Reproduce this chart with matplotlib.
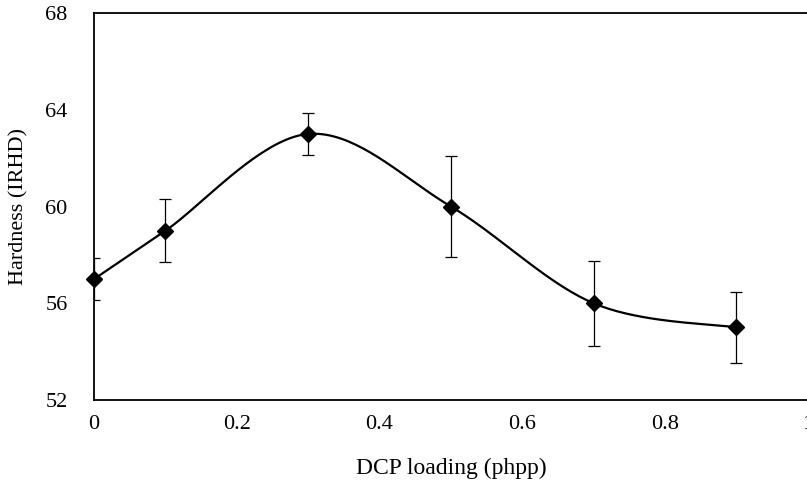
import numpy as np
import matplotlib
matplotlib.use("Agg")
import matplotlib.pyplot as plt

# ---------------- Data ----------------
dcp = [0.0, 0.1, 0.3, 0.5, 0.7, 0.9]
hardness = [57.0, 59.0, 63.0, 60.0, 56.0, 55.0]
err = [0.88, 1.3, 0.86, 2.1, 1.75, 1.45]

x_ticks = [0, 0.2, 0.4, 0.6, 0.8, 1]
x_tick_labels = ["0", "0.2", "0.4", "0.6", "0.8", "1"]
y_ticks = [52, 56, 60, 64, 68]


def smooth_curve(xs, ys, sx, sy, n=40):
    # Excel-like smoothed line: Catmull-Rom spline done in (scaled) screen space
    p = np.column_stack([np.asarray(xs) * sx, np.asarray(ys) * sy])
    p = np.vstack([p[0], p, p[-1]])
    out = []
    t = np.linspace(0, 1, n)[:, None]
    for i in range(1, len(p) - 2):
        p0, p1, p2, p3 = p[i - 1], p[i], p[i + 1], p[i + 2]
        c1 = p1 + (p2 - p0) / 6.0
        c2 = p2 - (p3 - p1) / 6.0
        seg = ((1 - t) ** 3) * p1 + 3 * ((1 - t) ** 2) * t * c1 \
            + 3 * (1 - t) * t ** 2 * c2 + t ** 3 * p2
        out.append(seg)
    out = np.vstack(out)
    return out[:, 0] / sx, out[:, 1] / sy


plt.rcParams['font.family'] = ['Liberation Serif', 'DejaVu Serif']
plt.rcParams['font.size'] = 16

fig = plt.figure(figsize=(8.07, 4.82), dpi=100)
ax = fig.add_axes([0.1165, 0.170, 0.8845, 0.803])

# axes is ~713 px wide for 1 unit, ~387 px tall for 16 units
cx, cy = smooth_curve(dcp, hardness, 713.0, 387.0 / 16.0)
ax.plot(cx, cy, color='black', lw=1.6, zorder=3)
ax.errorbar(dcp, hardness, yerr=err, fmt='none', ecolor='black',
            elinewidth=0.9, capsize=4, capthick=0.9, zorder=2)
ax.plot(dcp, hardness, linestyle='none', marker='D', markersize=8,
        color='black', zorder=4, clip_on=False)

ax.set_xlim(0, 1)
ax.set_ylim(52, 68)
ax.set_xticks(x_ticks)
ax.set_xticklabels(x_tick_labels)
ax.set_yticks(y_ticks)
ax.tick_params(axis='both', length=0)
ax.tick_params(axis='y', pad=19)
ax.tick_params(axis='x', pad=11)
for s in ax.spines.values():
    s.set_linewidth(1.3)
ax.spines['right'].set_visible(False)

ax.set_xlabel('DCP loading (phpp)', fontsize=17, labelpad=17)
ax.set_ylabel('Hardness (IRHD)', labelpad=12)

plt.savefig('out.png', dpi=100)
